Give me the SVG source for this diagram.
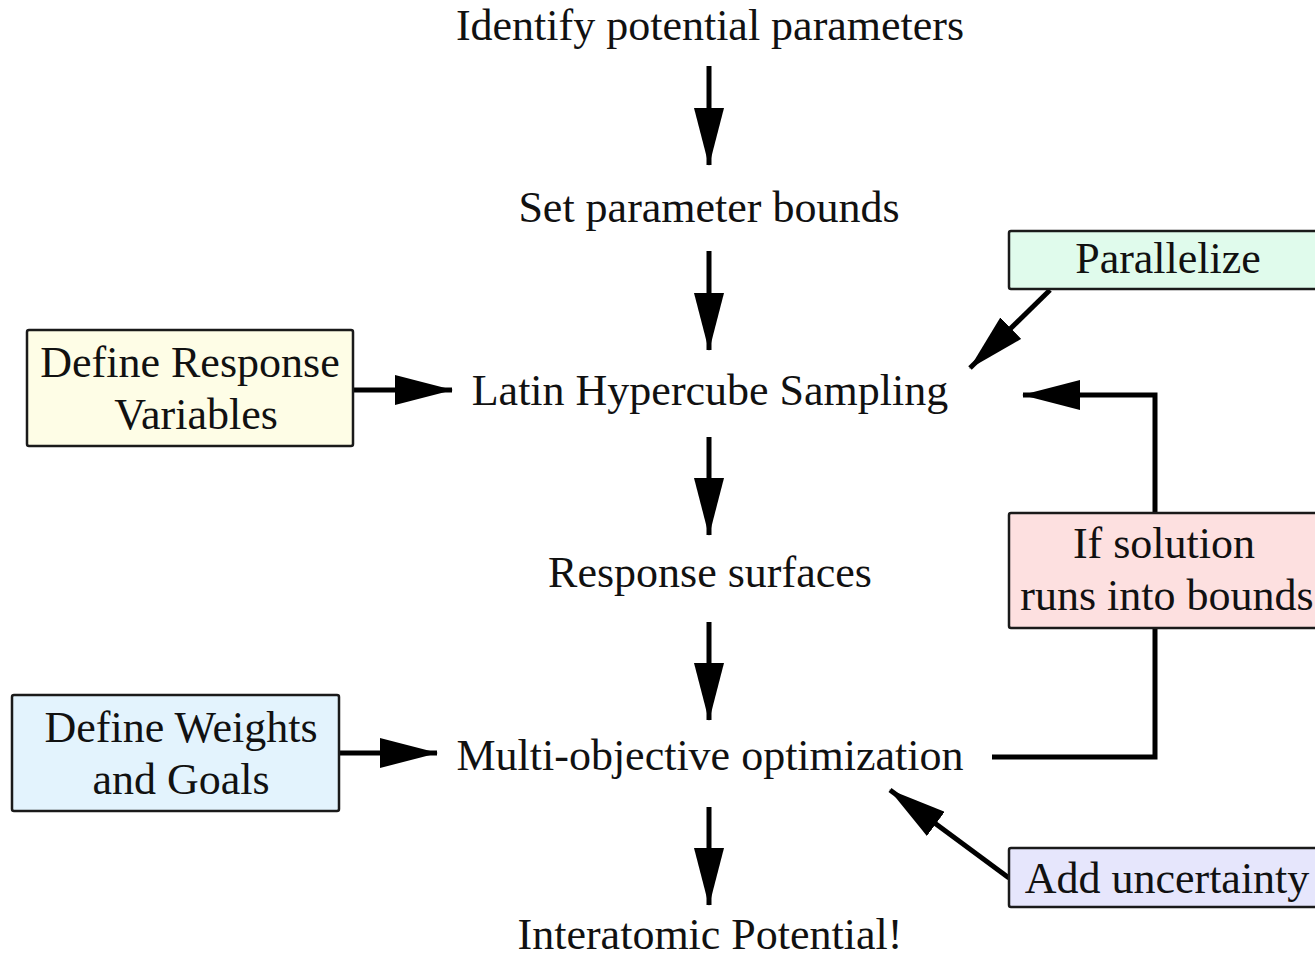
<svg xmlns="http://www.w3.org/2000/svg" width="1315" height="957" viewBox="0 0 1315 957">
<style>
text{font-family:"Liberation Serif","Times New Roman",serif;font-size:44px;fill:#111;text-anchor:middle}
.box{stroke:#1a1a1a;stroke-width:2.5}
.c{fill:none;stroke:#000;stroke-width:5}
</style>
<defs>
<marker id="ah" markerUnits="userSpaceOnUse" markerWidth="58" markerHeight="30" viewBox="0 0 58 30" refX="57" refY="15" orient="auto">
<path d="M0,0 L58,15 L0,30 Z" fill="#000"/>
</marker>
</defs>
<rect width="1315" height="957" fill="#fff"/>
<g id="connectors">
<line class="c" x1="709" y1="66" x2="709" y2="165" marker-end="url(#ah)"/>
<line class="c" x1="709" y1="251" x2="709" y2="350" marker-end="url(#ah)"/>
<line class="c" x1="709" y1="437" x2="709" y2="535" marker-end="url(#ah)"/>
<line class="c" x1="709" y1="622" x2="709" y2="720" marker-end="url(#ah)"/>
<line class="c" x1="709" y1="807" x2="709" y2="905" marker-end="url(#ah)"/>
<line class="c" x1="353" y1="390" x2="452" y2="390" marker-end="url(#ah)"/>
<line class="c" x1="339" y1="753" x2="437" y2="753" marker-end="url(#ah)"/>
<line class="c" x1="1050" y1="290" x2="970" y2="368" marker-end="url(#ah)"/>
<line class="c" x1="1009" y1="878" x2="890" y2="790" marker-end="url(#ah)"/>
<polyline class="c" points="992,757 1155,757 1155,628"/>
<polyline class="c" points="1155,513 1155,395 1023,395" marker-end="url(#ah)"/>
</g>
<g id="identify"><text x="710" y="40">Identify potential parameters</text></g>
<g id="bounds"><text x="709" y="222">Set parameter bounds</text></g>
<g id="lhs"><text x="710" y="405">Latin Hypercube Sampling</text></g>
<g id="surfaces"><text x="710" y="587">Response surfaces</text></g>
<g id="moo"><text x="710" y="770">Multi-objective optimization</text></g>
<g id="potential"><text x="710" y="949">Interatomic Potential!</text></g>
<g id="parallelize">
<rect class="box" x="1009" y="231" width="320" height="58" rx="2" fill="#e0fbec"/>
<text x="1168" y="273">Parallelize</text>
</g>
<g id="solution">
<rect class="box" x="1009" y="513" width="320" height="115" rx="2" fill="#fde0e0"/>
<text x="1164" y="558">If solution</text>
<text x="1167" y="610">runs into bounds</text>
</g>
<g id="uncertainty">
<rect class="box" x="1009" y="848" width="320" height="59" rx="2" fill="#e6e6fc"/>
<text x="1167" y="893">Add uncertainty</text>
</g>
<g id="response">
<rect class="box" x="27" y="330" width="326" height="116" rx="2" fill="#fefde6"/>
<text x="190" y="377">Define Response</text>
<text x="196" y="429">Variables</text>
</g>
<g id="weights">
<rect class="box" x="12" y="695" width="327" height="116" rx="2" fill="#e3f3fd"/>
<text x="181" y="742">Define Weights</text>
<text x="181" y="794">and Goals</text>
</g>
</svg>
